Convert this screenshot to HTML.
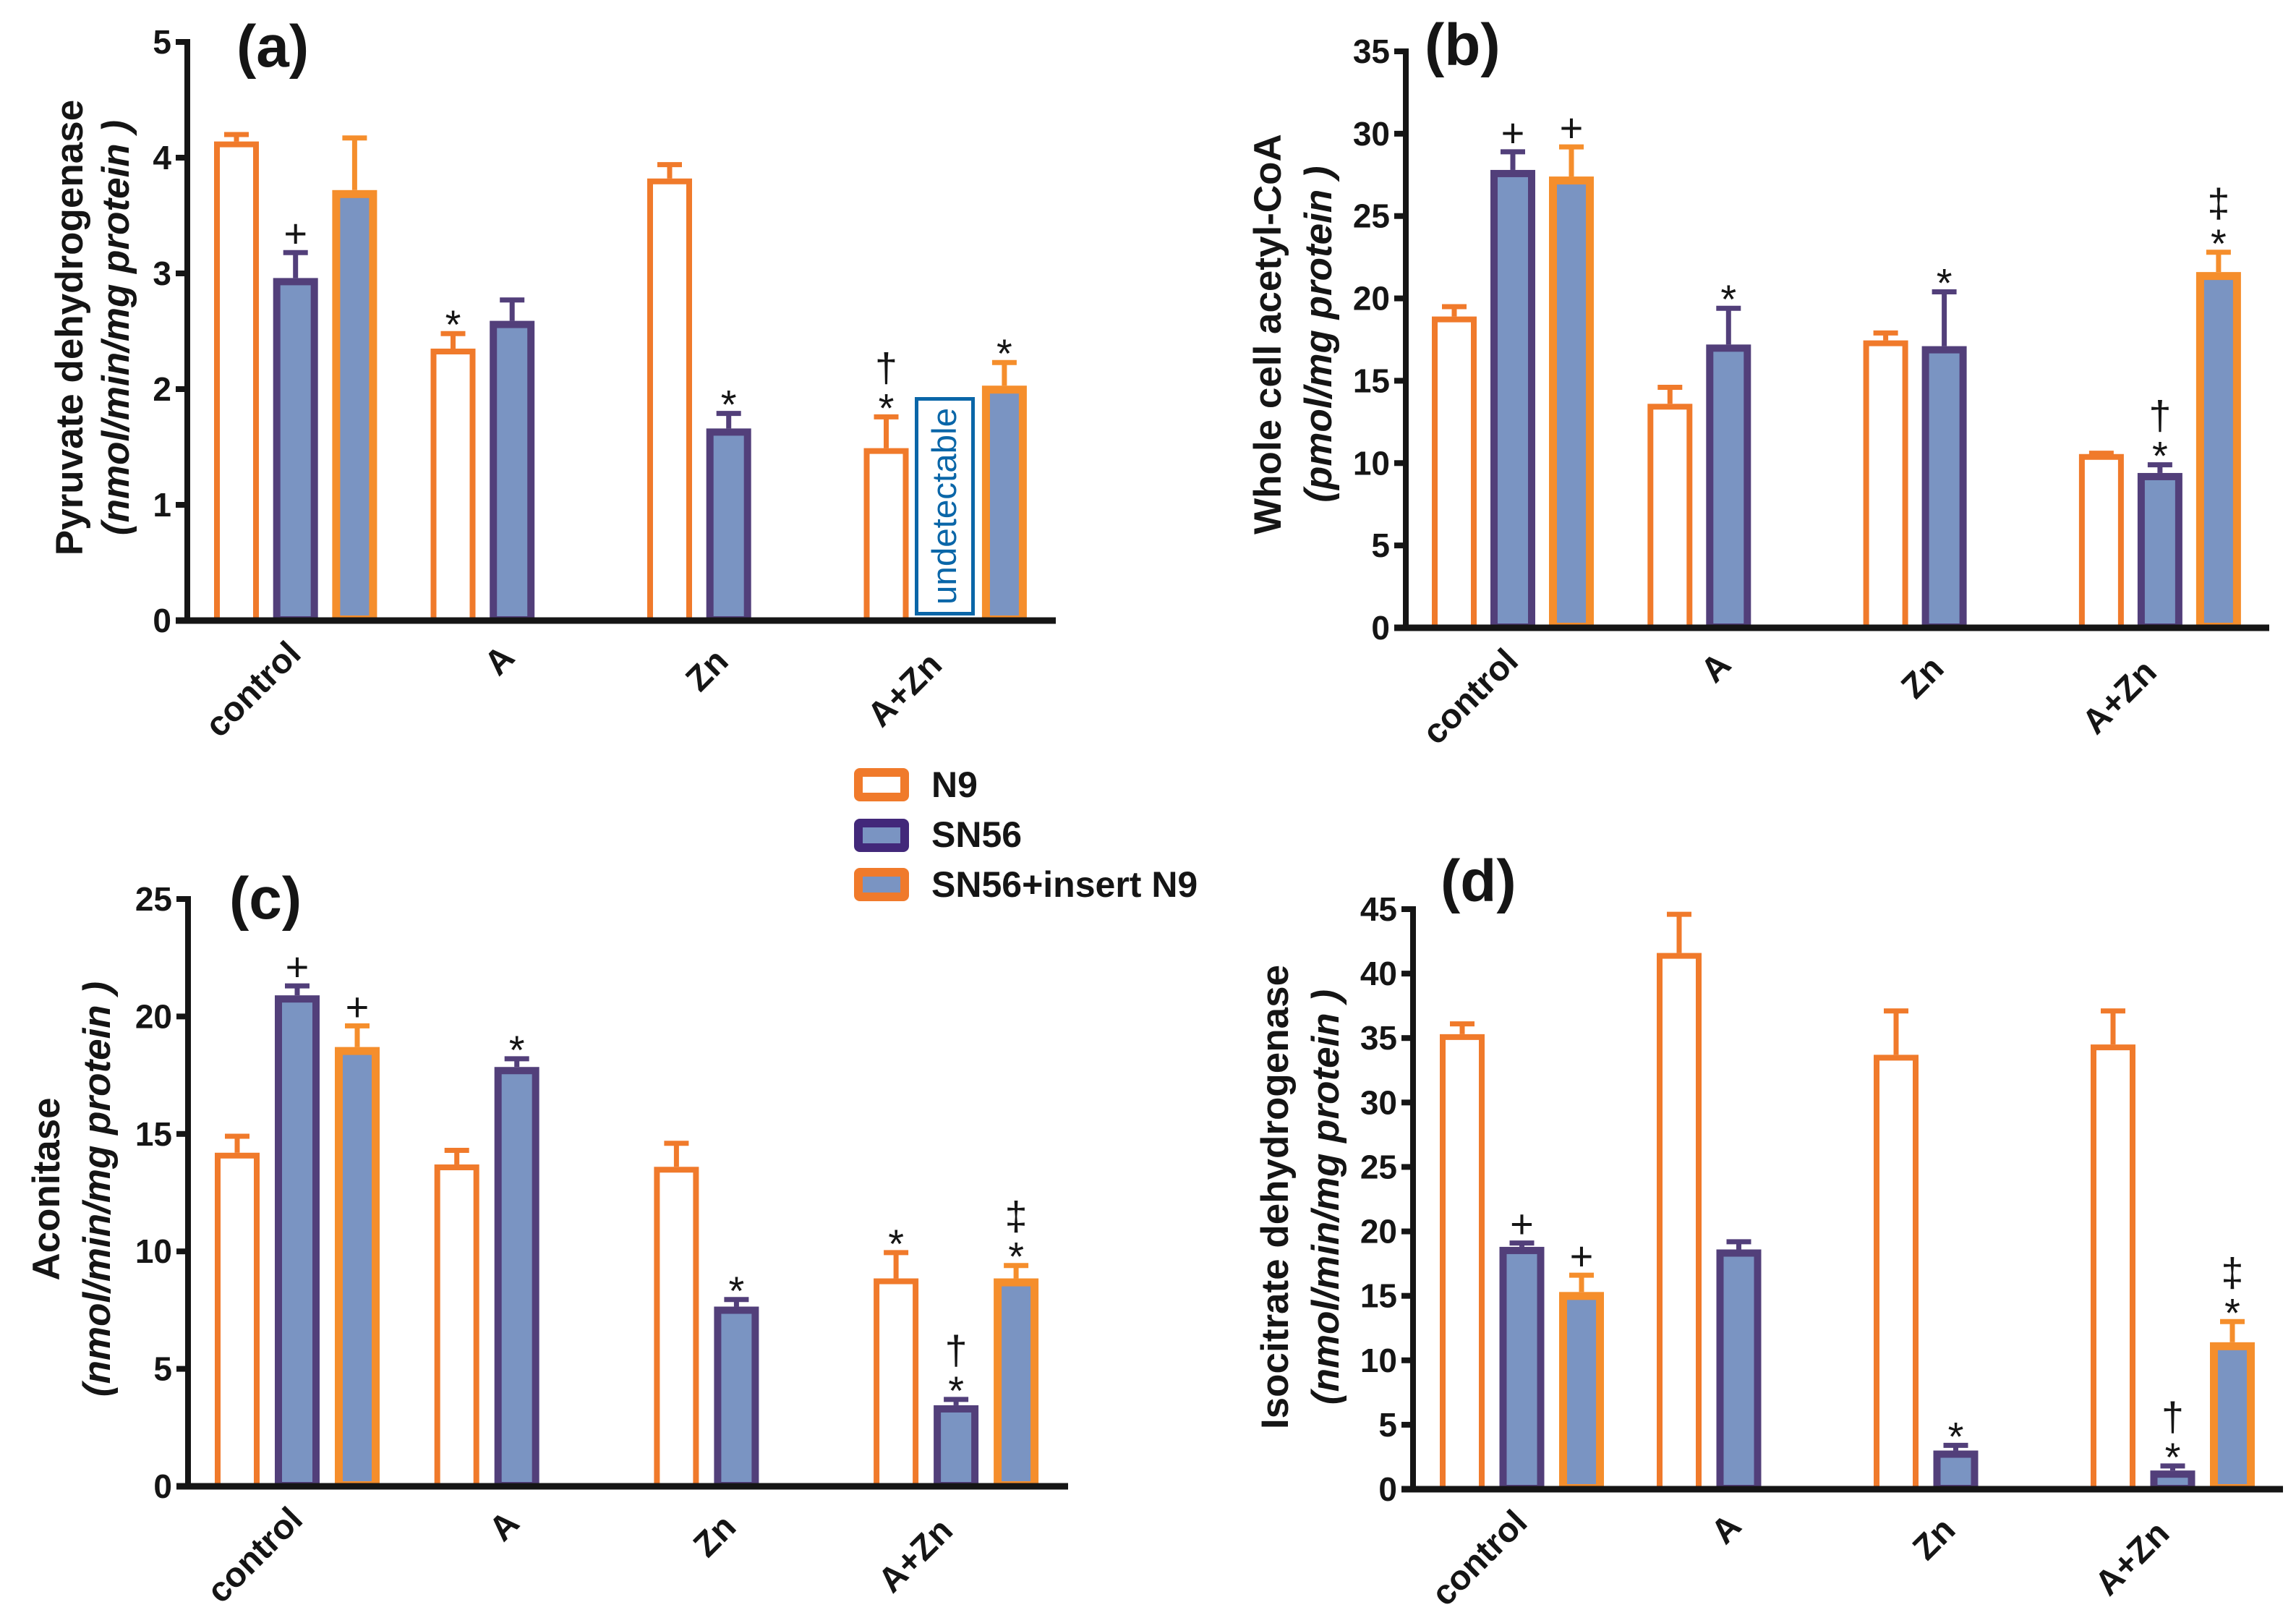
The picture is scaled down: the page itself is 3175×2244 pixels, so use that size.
<!DOCTYPE html>
<html lang="en">
<head>
<meta charset="utf-8">
<title>Mitochondrial enzyme activity charts</title>
<style>
html,body{margin:0;padding:0;background:#fff;}
svg{display:block;font-family:"Liberation Sans",sans-serif;}
</style>
</head>
<body>
<svg id="figure" xmlns="http://www.w3.org/2000/svg" width="3175" height="2244" viewBox="0 0 3175 2244">
<rect width="3175" height="2244" fill="#ffffff"/>
<g id="panel-a"></g>
<g id="panel-b"></g>
<g id="panel-c"></g>
<g id="panel-d"></g>
<g>
<rect x="1267.5" y="551.5" width="78" height="297" fill="#ffffff" stroke="#0a66a8" stroke-width="5"/>
<text transform="translate(1322,836) rotate(-90)" font-size="47" fill="#0a66a8" textLength="272" lengthAdjust="spacingAndGlyphs">undetectable</text>
</g>
<g>
<g>
<rect x="1187" y="1068" width="64" height="34" rx="2" fill="#ffffff" stroke="#f07a2b" stroke-width="12"/>
<text x="1288" y="1102" font-size="50" font-weight="700" fill="#151515">N9</text>
</g>
<g>
<rect x="1187" y="1138" width="64" height="34" rx="2" fill="#7a94c2" stroke="#42287a" stroke-width="12"/>
<text x="1288" y="1171" font-size="50" font-weight="700" fill="#151515">SN56</text>
</g>
<g>
<rect x="1187" y="1206" width="64" height="34" rx="2" fill="#7a94c2" stroke="#f07a2b" stroke-width="12"/>
<text x="1288" y="1240" font-size="50" font-weight="700" fill="#151515">SN56+insert N9</text>
</g>
</g>
</svg>
<script>
// Shared categories
const categories = ['control', 'A', 'Zn', 'A+Zn'];

// Panel (a) Pyruvate dehydrogenase
const aTicks = [0, 1, 2, 3, 4, 5];
const aN9 = [4.14, 2.35, 3.82, 1.49];
const aN9Err = [4.20, 2.48, 3.94, 1.76];
const aSN56 = [2.96, 2.59, 1.66, null];
const aSN56Err = [3.18, 2.77, 1.79, null];
const aInsert = [3.72, null, null, 2.03];
const aInsertErr = [4.17, null, null, 2.23];
const aN9Marks = ['', '*', '', '*†'];
const aSN56Marks = ['+', '', '*', ''];
const aInsertMarks = ['', '', '', '*'];

// Panel (b) Whole cell acetyl-CoA
const bTicks = [0, 5, 10, 15, 20, 25, 30, 35];
const bN9 = [18.9, 13.6, 17.45, 10.55];
const bN9Err = [19.5, 14.6, 17.9, 10.6];
const bSN56 = [27.8, 17.2, 17.1, 9.4];
const bSN56Err = [28.9, 19.4, 20.4, 9.9];
const bInsert = [27.4, null, null, 21.6];
const bInsertErr = [29.2, null, null, 22.8];
const bN9Marks = ['', '', '', ''];
const bSN56Marks = ['+', '*', '*', '*†'];
const bInsertMarks = ['+', '', '', '*‡'];

// Panel (c) Aconitase
const cTicks = [0, 5, 10, 15, 20, 25];
const cN9 = [14.2, 13.7, 13.6, 8.85];
const cN9Err = [14.9, 14.3, 14.6, 9.95];
const cSN56 = [20.9, 17.85, 7.65, 3.45];
const cSN56Err = [21.3, 18.2, 7.95, 3.7];
const cInsert = [18.7, null, null, 8.85];
const cInsertErr = [19.6, null, null, 9.4];
const cN9Marks = ['', '', '', '*'];
const cSN56Marks = ['+', '*', '*', '*†'];
const cInsertMarks = ['+', '', '', '*‡'];

// Panel (d) Isocitrate dehydrogenase
const dTicks = [0, 5, 10, 15, 20, 25, 30, 35, 40, 45];
const dN9 = [35.3, 41.6, 33.7, 34.5];
const dN9Err = [36.1, 44.6, 37.1, 37.1];
const dSN56 = [18.8, 18.6, 3.0, 1.45];
const dSN56Err = [19.1, 19.2, 3.4, 1.8];
const dInsert = [15.3, null, null, 11.4];
const dInsertErr = [16.6, null, null, 13.0];
const dN9Marks = ['', '', '', ''];
const dSN56Marks = ['+', '', '*', '*†'];
const dInsertMarks = ['+', '', '', '*‡'];

const NS = 'http://www.w3.org/2000/svg';
const N9_COLOR = '#f07a2b';
const SN_COLOR = '#523f7a';
const IN_COLOR = '#f58e2c';
const FILL_BLUE = '#7a94c2';
const INK = '#151515';

function make(tag, attrs, parent) {
  const node = document.createElementNS(NS, tag);
  for (const k in attrs) node.setAttribute(k, attrs[k]);
  parent.appendChild(node);
  return node;
}

function drawSeries(g, cfg, yScale, xScale, values, errs, marks, slot, style) {
  values.forEach(function (v, i) {
    if (v === null) return;
    const cx = xScale(i, slot);
    const top = yScale(v);
    const errTop = yScale(errs[i]);
    const sw = style.stroke;

    const eb = make('line', {x1: cx, x2: cx, y1: top, y2: errTop, stroke: style.color, 'stroke-width': 7}, g);
    
    

    const cap = make('line', {x1: cx - 17, x2: cx + 17, y1: errTop, y2: errTop, stroke: style.color, 'stroke-width': 7}, g);
    
    

    const bar = make('rect', {
      x: cx - cfg.barW / 2 + sw / 2,
      y: top + sw / 2,
      width: cfg.barW - sw,
      height: Math.max(0, cfg.zero + 4 - top - sw),
      fill: style.fill,
      stroke: style.color,
      'stroke-width': sw
    }, g);
    
    

    let c = errTop - 24;
    Array.from(marks[i]).forEach(function (sym, j) {
      const dy = sym === '*' ? 31 : (sym === '+' ? 17 : 15);
      const t = make('text', {x: cx, y: c + dy, 'font-size': 56, 'text-anchor': 'middle', fill: INK}, g);
      t.textContent = sym;
      
      
      c -= 40;
    });
  });
}

function drawPanel(cfg) {
  const g = document.getElementById(cfg.id);
  const maxTick = cfg.ticks[cfg.ticks.length - 1];
  const yScale = function (v) { return cfg.zero - (v / maxTick) * (cfg.zero - cfg.top); };
  const xScale = function (group, slot) { return cfg.x0 + group * cfg.groupStep + slot * cfg.barStep; };

  drawSeries(g, cfg, yScale, xScale, cfg.n9, cfg.n9Err, cfg.n9Marks, 0, {key: 'n9', color: N9_COLOR, fill: '#ffffff', stroke: 8});
  drawSeries(g, cfg, yScale, xScale, cfg.sn, cfg.snErr, cfg.snMarks, 1, {key: 'sn56', color: SN_COLOR, fill: FILL_BLUE, stroke: 10});
  drawSeries(g, cfg, yScale, xScale, cfg.ins, cfg.insErr, cfg.insMarks, 2, {key: 'sn56-insert-n9', color: IN_COLOR, fill: FILL_BLUE, stroke: 11});

  const yAxis = make('line', {x1: cfg.axisX, x2: cfg.axisX, y1: cfg.top - 4, y2: cfg.zero + 4, stroke: INK, 'stroke-width': 8}, g);
  
  

  const xAxis = make('line', {x1: cfg.axisX - 16, x2: cfg.axisEnd, y1: cfg.zero, y2: cfg.zero, stroke: INK, 'stroke-width': 9}, g);
  
  

  cfg.ticks.forEach(function (tick) {
    const y = yScale(tick);
    const mark = make('line', {x1: cfg.axisX - 16, x2: cfg.axisX, y1: y, y2: y, stroke: INK, 'stroke-width': 8}, g);
    
    
    const label = make('text', {x: cfg.axisX - 22, y: y + 16, 'font-size': 46, 'font-weight': 700, 'text-anchor': 'end', fill: INK}, g);
    label.textContent = String(tick);
    
    
  });

  categories.forEach(function (name, i) {
    const ax = xScale(i, 1) + 10 - i * 4;
    const ay = cfg.zero + 49 + i * 5;
    const label = make('text', {
      transform: 'translate(' + ax + ',' + ay + ') rotate(-45)',
      'font-size': 48,
      'font-weight': 700,
      'text-anchor': 'end',
      fill: INK
    }, g);
    label.textContent = name;
    
    
  });

  const tA = make('text', {
    transform: 'translate(' + cfg.titleX + ',' + cfg.titleY + ') rotate(-90)',
    'font-size': 53, 'font-weight': 700, 'text-anchor': 'middle', fill: INK
  }, g);
  tA.textContent = cfg.title;
  
  

  const tB = make('text', {
    transform: 'translate(' + cfg.unitX + ',' + cfg.titleY + ') rotate(-90)',
    'font-size': 53, 'font-weight': 700, 'font-style': 'italic', 'text-anchor': 'middle', fill: INK
  }, g);
  tB.textContent = cfg.unit;
  
  

  const letter = make('text', {x: cfg.letterX, y: cfg.letterY, 'font-size': 82, 'font-weight': 700, fill: INK}, g);
  letter.textContent = cfg.letter;
  
  
}

drawPanel({id: 'panel-a', letter: '(a)', letterX: 327, letterY: 92,
  title: 'Pyruvate dehydrogenase', unit: '(nmol/min/mg protein )', titleX: 114, unitX: 178, titleY: 453,
  ticks: aTicks, top: 58, zero: 858, axisX: 259, axisEnd: 1460,
  x0: 327, groupStep: 299.5, barStep: 81.7, barW: 62,
  n9: aN9, n9Err: aN9Err, n9Marks: aN9Marks, sn: aSN56, snErr: aSN56Err, snMarks: aSN56Marks, ins: aInsert, insErr: aInsertErr, insMarks: aInsertMarks});

drawPanel({id: 'panel-b', letter: '(b)', letterX: 1970, letterY: 90,
  title: 'Whole cell acetyl-CoA', unit: '(pmol/mg protein )', titleX: 1771, unitX: 1841, titleY: 462,
  ticks: bTicks, top: 71, zero: 868, axisX: 1944, axisEnd: 3138,
  x0: 2011, groupStep: 298.3, barStep: 81, barW: 62,
  n9: bN9, n9Err: bN9Err, n9Marks: bN9Marks, sn: bSN56, snErr: bSN56Err, snMarks: bSN56Marks, ins: bInsert, insErr: bInsertErr, insMarks: bInsertMarks});

drawPanel({id: 'panel-c', letter: '(c)', letterX: 317, letterY: 1270,
  title: 'Aconitase', unit: '(nmol/min/mg protein )', titleX: 82, unitX: 152, titleY: 1644,
  ticks: cTicks, top: 1243, zero: 2055, axisX: 260, axisEnd: 1477,
  x0: 328, groupStep: 303.7, barStep: 83, barW: 62,
  n9: cN9, n9Err: cN9Err, n9Marks: cN9Marks, sn: cSN56, snErr: cSN56Err, snMarks: cSN56Marks, ins: cInsert, insErr: cInsertErr, insMarks: cInsertMarks});

drawPanel({id: 'panel-d', letter: '(d)', letterX: 1992, letterY: 1246,
  title: 'Isocitrate dehydrogenase', unit: '(nmol/min/mg protein )', titleX: 1781, unitX: 1851, titleY: 1655,
  ticks: dTicks, top: 1257, zero: 2059, axisX: 1954, axisEnd: 3157,
  x0: 2022, groupStep: 300, barStep: 82.5, barW: 62,
  n9: dN9, n9Err: dN9Err, n9Marks: dN9Marks, sn: dSN56, snErr: dSN56Err, snMarks: dSN56Marks, ins: dInsert, insErr: dInsertErr, insMarks: dInsertMarks});
</script>
</body>
</html>
